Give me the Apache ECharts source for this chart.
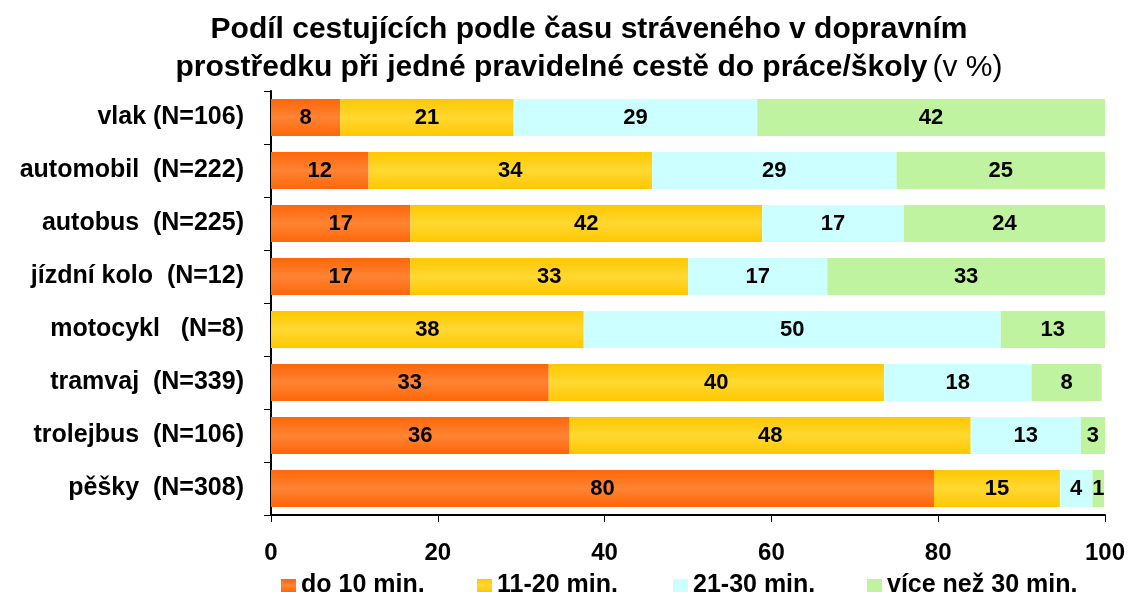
<!DOCTYPE html>
<html>
<head>
<meta charset="utf-8">
<script src="https://cdn.jsdelivr.net/npm/echarts@6/dist/echarts.min.js"></script>
<style>
  html, body { margin: 0; padding: 0; background: #fff; }
  #chart { width: 1128px; height: 592px; }
</style>
</head>
<body>
<div id="chart"></div>
<script>
const categories = [
  'vlak (N=106)',
  'automobil  (N=222)',
  'autobus  (N=225)',
  'jízdní kolo  (N=12)',
  'motocykl   (N=8)',
  'tramvaj  (N=339)',
  'trolejbus  (N=106)',
  'pěšky  (N=308)'
];

// shares in %
const do10 =     [8.3, 11.7, 16.7, 16.7, 0,    33.3, 35.8, 79.5];
const min11_20 = [20.8, 34.0, 42.2, 33.3, 37.5, 40.2, 48.1, 15.1];
const min21_30 = [29.2, 29.3, 17.0, 16.7, 50.0, 17.7, 13.2, 3.9];
const over30 =   [41.7, 25.0, 24.1, 33.3, 12.5, 8.4,  2.9,  1.4];

const seriesNames = ['do 10 min.', '11-20 min.', '21-30 min.', 'více než 30 min.'];

const font = 'Liberation Sans, Arial, sans-serif';

const vgrad = (edge, mid) => ({
  type: 'linear', x: 0, y: 0, x2: 0, y2: 1,
  colorStops: [
    { offset: 0, color: edge },
    { offset: 0.5, color: mid },
    { offset: 1, color: edge }
  ]
});

const colors = [
  vgrad('#ff6608', '#ff8433'),
  vgrad('#ffc800', '#ffd832'),
  '#ccffff',
  '#bff3a0'
];

const mkSeries = (name, data, color) => ({
  name: name,
  type: 'bar',
  stack: 'total',
  barCategoryGap: '30%',
  data: data,
  itemStyle: { color: color },
  label: {
    show: true,
    position: 'inside',
    color: '#000',
    fontFamily: font,
    fontWeight: 'bold',
    fontSize: 22,
    formatter: p => (p.value > 0 ? String(Math.round(p.value)) : '')
  }
});

// one legend block per entry so each sits where Excel put it
const legendLeft = [276, 472, 668, 862];
const mkLegend = (name, left) => ({
  top: 568,
  left: left,
  itemWidth: 15,
  itemHeight: 13,
  icon: 'rect',
  textStyle: { fontFamily: font, fontWeight: 'bold', fontSize: 25, color: '#000' },
  data: [name]
});

const chart = echarts.init(document.getElementById('chart'));

chart.setOption({
  animation: false,
  backgroundColor: '#fff',
  title: {
    left: 584,
    top: 6,
    textAlign: 'center',
    text: '{b|Podíl cestujících podle času stráveného v dopravním}\n{b|prostředku při jedné pravidelné cestě do práce/školy} {n|(v %)}',
    textStyle: {
      rich: {
        b: { fontFamily: font, fontWeight: 'bold', fontSize: 30, color: '#000', lineHeight: 38 },
        n: { fontFamily: font, fontWeight: 'normal', fontSize: 30, color: '#000', lineHeight: 38 }
      }
    }
  },
  legend: seriesNames.map((n, i) => mkLegend(n, legendLeft[i])),
  grid: { left: 271, right: 22, top: 91, bottom: 77 },
  xAxis: {
    type: 'value',
    min: 0,
    max: 100,
    interval: 20,
    axisLine: { show: true, lineStyle: { color: '#000', width: 2 } },
    axisTick: { show: true, length: 7, lineStyle: { color: '#000', width: 1 } },
    splitLine: { show: false },
    axisLabel: { color: '#000', fontFamily: font, fontWeight: 'bold', fontSize: 24, margin: 26 }
  },
  yAxis: {
    type: 'category',
    inverse: true,
    data: categories,
    axisLine: { show: true, lineStyle: { color: '#000', width: 2 } },
    axisTick: { show: true, length: 7, lineStyle: { color: '#000', width: 1 } },
    axisLabel: { color: '#000', fontFamily: font, fontWeight: 'bold', fontSize: 25, margin: 27 }
  },
  series: [
    mkSeries(seriesNames[0], do10, colors[0]),
    mkSeries(seriesNames[1], min11_20, colors[1]),
    mkSeries(seriesNames[2], min21_30, colors[2]),
    mkSeries(seriesNames[3], over30, colors[3])
  ]
});
</script>
</body>
</html>
